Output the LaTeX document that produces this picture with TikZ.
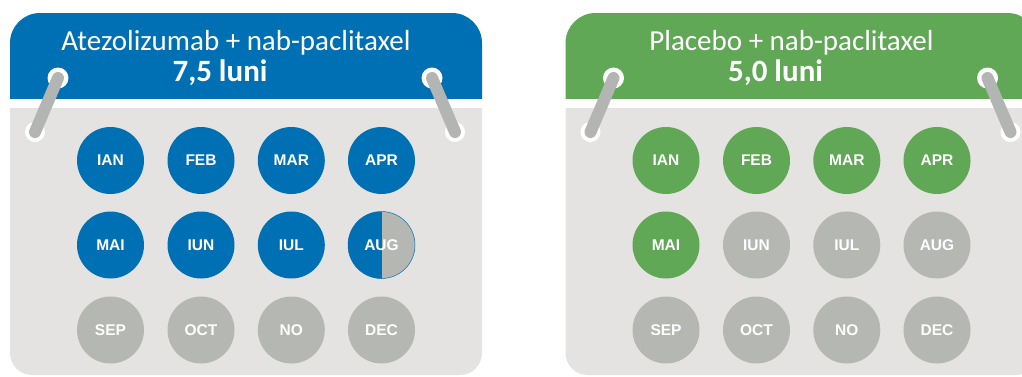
\documentclass[tikz,border=0pt]{standalone}
\usepackage{fontspec}
\setmainfont{Carlito}
\newfontfamily\labfont{Liberation Sans}
\definecolor{cblue}{RGB}{0,112,180}
\definecolor{cgreen}{RGB}{96,167,86}
\definecolor{bodygray}{RGB}{228,227,225}
\definecolor{offgray}{RGB}{181,183,179}
\definecolor{rodgray}{RGB}{179,181,178}
\tikzset{
  month/.style={circle, minimum size=67pt, inner sep=0pt, text=white,
    font=\labfont\bfseries\fontsize{15.5}{16}\selectfont},
  title/.style={text=white, anchor=base, inner sep=0pt,
    font=\fontsize{29}{30}\selectfont},
  big/.style={text=white, anchor=base, inner sep=0pt,
    font=\bfseries\fontsize{31}{32}\selectfont},
  rod/.style={rodgray, line width=12pt, line cap=round},
  hole/.style={white},
}
\newcommand{\mlab}[1]{\raisebox{-1.5pt}{#1}}
\begin{document}
\begin{tikzpicture}[x=1pt, y=-1pt]
\useasboundingbox (0,0) rectangle (1022,376);
\clip (0,0) rectangle (1022,376);
% ---------- calendars ----------
\foreach \dx/\hc/\p in {0/cblue/L, 555.5/cgreen/R}{
  \begin{scope}[xshift=\dx pt]
    \begin{scope}
      \clip (0,0) rectangle (600,98);
      \fill[\hc, rounded corners=30pt] (10,13) rectangle (482,160);
    \end{scope}
    \begin{scope}
      \clip (0,108) rectangle (600,380);
      \fill[bodygray, rounded corners=22pt] (10,60) rectangle (482,375);
    \end{scope}
    \coordinate (\p-lt) at (58,78);
    \coordinate (\p-lb) at (35,132);
    \coordinate (\p-rt) at (432,78);
    \coordinate (\p-rb) at (455,132);
    \fill[hole] (\p-lt) circle (10.5pt);
    \fill[hole] (\p-lb) circle (10pt);
    \fill[hole] (\p-rt) circle (10.5pt);
    \fill[hole] (\p-rb) circle (10pt);
    \draw[rod] (\p-lt) -- (\p-lb);
    \draw[rod] (\p-rt) -- (\p-rb);
  \end{scope}
}
% ---------- titles ----------
\node[title] (Lt) at (236,50) {Atezolizumab + nab-paclitaxel};
\node[big] (Lv) at (220,81) {7,5 luni};
\node[title] (Rt) at (791.5,50) {Placebo + nab-paclitaxel};
\node[big] (Rv) at (775.5,81) {5,0 luni};
% ---------- left months ----------
\node[month, fill=cblue] (L1) at (110.5,160.5) {\mlab{IAN}};
\node[month, fill=cblue] (L2) at (201,160.5) {\mlab{FEB}};
\node[month, fill=cblue] (L3) at (291.3,160.5) {\mlab{MAR}};
\node[month, fill=cblue] (L4) at (381.5,160.5) {\mlab{APR}};
\node[month, fill=cblue] (L5) at (110.5,245) {\mlab{MAI}};
\node[month, fill=cblue] (L6) at (201,245) {\mlab{IUN}};
\node[month, fill=cblue] (L7) at (291.3,245) {\mlab{IUL}};
\node[month, fill=offgray, draw=cblue, line width=0.5pt,
  path picture={\fill[cblue] (path picture bounding box.north west) rectangle (path picture bounding box.south);}]
  (L8) at (381.5,245) {\mlab{AUG}};
\node[month, fill=offgray] (L9) at (110.5,330) {\mlab{SEP}};
\node[month, fill=offgray] (L10) at (201,330) {\mlab{OCT}};
\node[month, fill=offgray] (L11) at (291.3,330) {\raisebox{-3.5pt}{NO}};
\node[month, fill=offgray] (L12) at (381.5,330) {\mlab{DEC}};
% ---------- right months ----------
\node[month, fill=cgreen] (R1) at (666,160.5) {\mlab{IAN}};
\node[month, fill=cgreen] (R2) at (756.5,160.5) {\mlab{FEB}};
\node[month, fill=cgreen] (R3) at (846.8,160.5) {\mlab{MAR}};
\node[month, fill=cgreen] (R4) at (937,160.5) {\mlab{APR}};
\node[month, fill=cgreen] (R5) at (666,245) {\mlab{MAI}};
\node[month, fill=offgray] (R6) at (756.5,245) {\mlab{IUN}};
\node[month, fill=offgray] (R7) at (846.8,245) {\mlab{IUL}};
\node[month, fill=offgray] (R8) at (937,245) {\mlab{AUG}};
\node[month, fill=offgray] (R9) at (666,330) {\mlab{SEP}};
\node[month, fill=offgray] (R10) at (756.5,330) {\mlab{OCT}};
\node[month, fill=offgray] (R11) at (846.8,330) {\raisebox{-3.5pt}{NO}};
\node[month, fill=offgray] (R12) at (937,330) {\mlab{DEC}};
\end{tikzpicture}
\end{document}
